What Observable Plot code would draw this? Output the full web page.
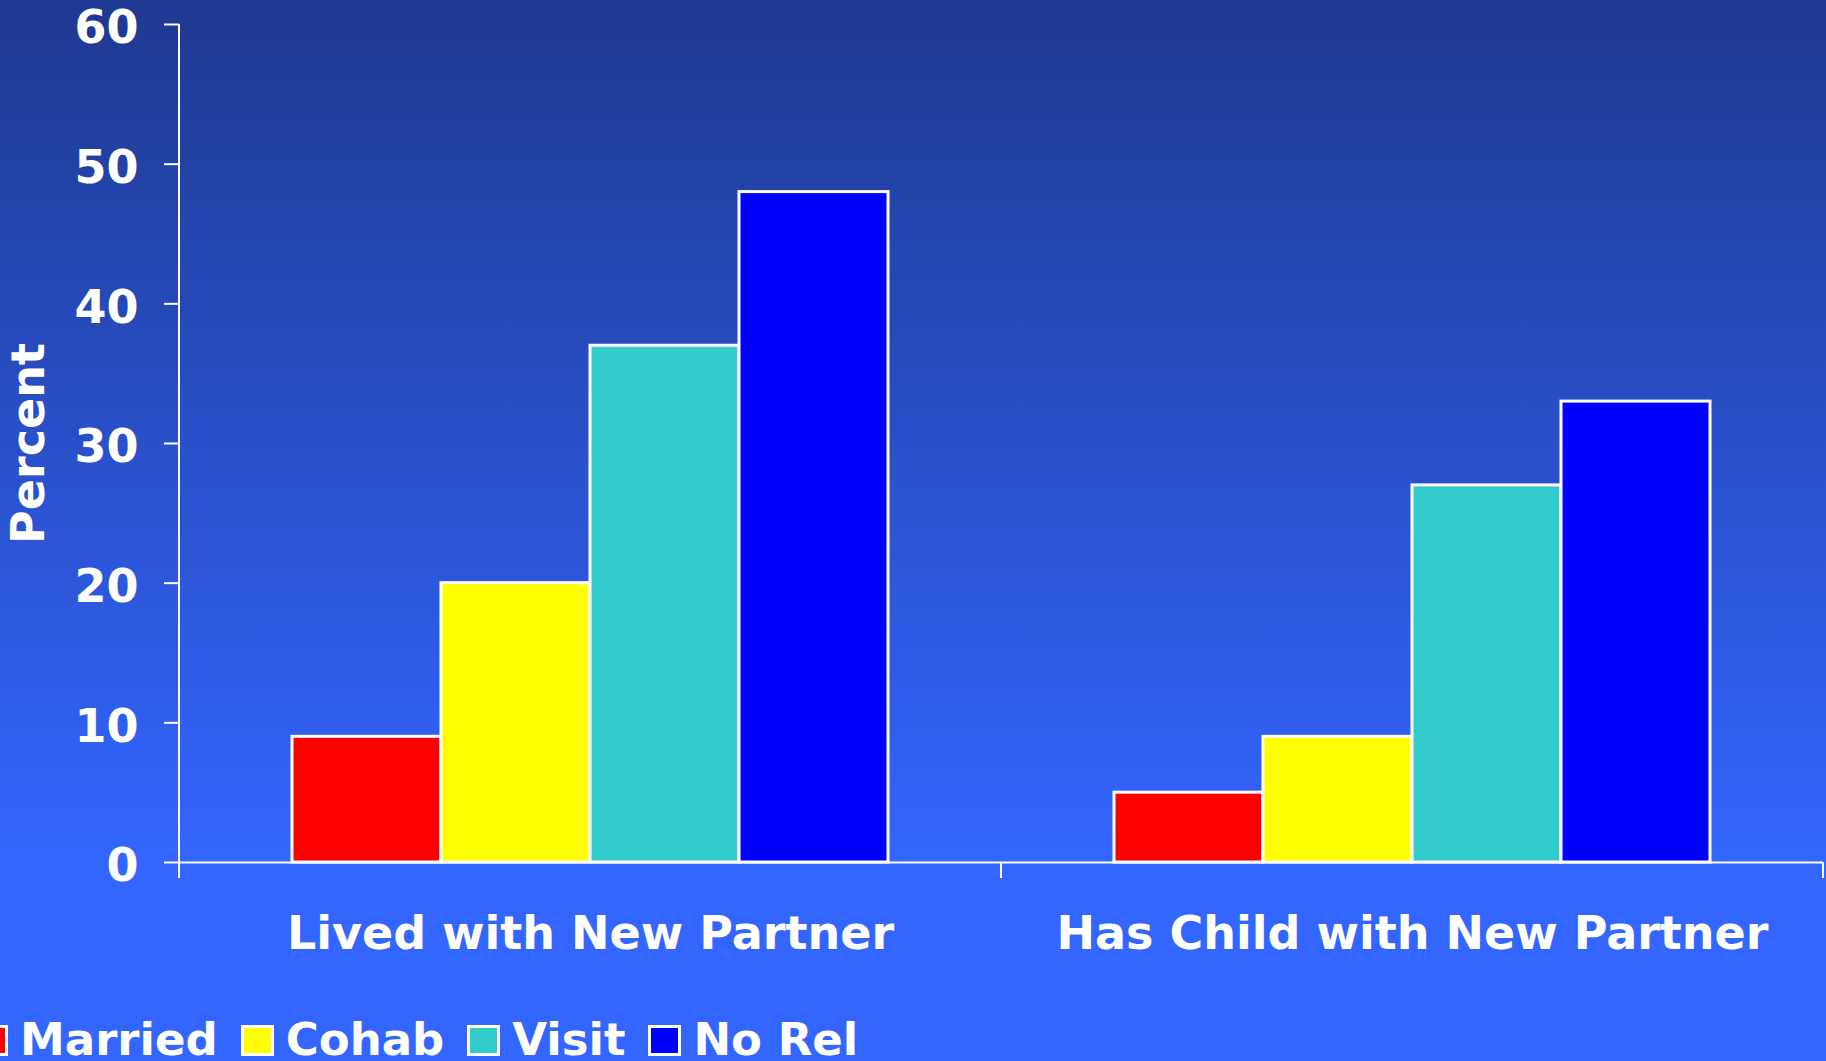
<!DOCTYPE html>
<html><head><meta charset="utf-8">
<script src="https://cdn.jsdelivr.net/npm/d3@7"></script>
<script src="https://cdn.jsdelivr.net/npm/@observablehq/plot@0.6"></script>
<style>
html,body{margin:0;padding:0;}
body{width:1826px;height:1061px;overflow:hidden;position:relative;background:linear-gradient(to bottom,#1e3990 0px,#3366ff 860px,#3366ff 1061px);font-family:"DejaVu Sans",sans-serif;color:#fff;}
#chart svg{display:block;background:transparent;}
#legend{position:absolute;left:-25px;top:1014px;display:flex;align-items:center;font-size:45px;font-weight:bold;line-height:52px;white-space:nowrap;}
.sw{display:inline-block;width:27px;height:25px;border:3px solid #fff;margin-right:12px;}
.lab{margin-right:23px;}
</style></head><body>
<div id="chart"></div><div id="legend"></div>
<script>
const groups = ["Lived with New Partner", "Has Child with New Partner"];
const series = ["Married", "Cohab", "Visit", "No Rel"];
const colors = ["#ff0000", "#ffff00", "#33cccc", "#0000ff"];
const livedValues = [9, 20, 37, 48];
const childValues = [5, 9, 27, 33];
const yTicks = [0, 10, 20, 30, 40, 50, 60];

const data = [
  ...series.map((s, i) => ({group: groups[0], series: s, value: livedValues[i]})),
  ...series.map((s, i) => ({group: groups[1], series: s, value: childValues[i]}))
];

const chart = Plot.plot({
  width: 1826, height: 975,
  marginLeft: 178, marginRight: 3, marginTop: 24, marginBottom: 113,
  style: {background: "transparent", color: "#fff", fontFamily: "'DejaVu Sans', sans-serif", overflow: "visible"},
  fx: {domain: groups, padding: 0},
  x: {domain: series, paddingInner: 0, paddingOuter: 0.75, axis: null},
  y: {domain: [0, 60]},
  color: {domain: series, range: colors},
  marks: [
    Plot.barY(data, {fx: "group", x: "series", y: "value", fill: "series", stroke: "#fff", strokeWidth: 3}),
    Plot.ruleY([0], {stroke: "#fff", strokeWidth: 2}),
    Plot.axisY({ticks: yTicks, tickSize: 15, strokeWidth: 2, fill: "none", label: null}),
    Plot.axisY({ticks: yTicks, tickSize: 15, tickPadding: 26, fontSize: 46, fontWeight: "bold", stroke: "none", dy: 4,
      label: "Percent", labelAnchor: "center", labelOffset: 168, labelArrow: "none"}),
    Plot.axisFx({anchor: "bottom", tickSize: 0, tickPadding: 54, fontSize: 46, fontWeight: "bold", label: null})
  ]
});
document.getElementById("chart").appendChild(chart);

// axis line and group-boundary ticks from the plot's own scales
const fxS = chart.scale("fx"), yS = chart.scale("y");
const y0 = yS.apply(0), yTop = yS.apply(d3.max(yTicks));
const edges = [...new Set(groups.flatMap(g => [fxS.apply(g), fxS.apply(g) + fxS.bandwidth]))];
const svg = d3.select(chart);
svg.append("line").attr("x1", edges[0]).attr("x2", edges[0]).attr("y1", yTop).attr("y2", y0 + 16)
  .attr("stroke", "#fff").attr("stroke-width", 2);
edges.slice(1).forEach(e => {
  svg.append("line").attr("x1", e).attr("x2", e).attr("y1", y0).attr("y2", y0 + 16)
    .attr("stroke", "#fff").attr("stroke-width", 2);
});

// legend
const legend = d3.select("#legend");
series.forEach((s, i) => {
  legend.append("span").attr("class", "sw").style("background", colors[i]);
  legend.append("span").attr("class", "lab").text(s);
});
</script>
</body></html>
